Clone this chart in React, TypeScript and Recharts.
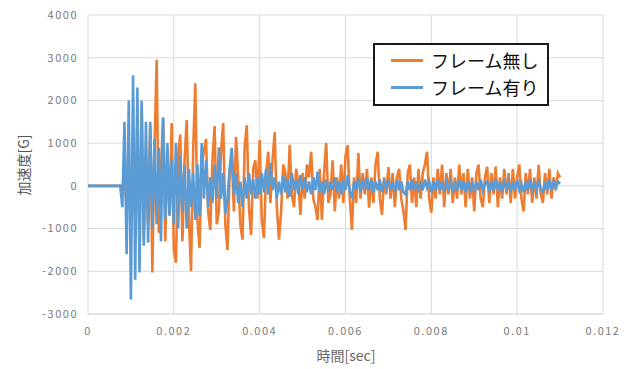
import React from "react";
import { LineChart, Line, XAxis, YAxis, CartesianGrid, Legend } from "recharts";

const SAMPLE_STEP = 0.00005;

const xTicks = [0, 0.002, 0.004, 0.006, 0.008, 0.01, 0.012];
const xTickLabels = ["0", "0.002", "0.004", "0.006", "0.008", "0.01", "0.012"];
const yTicks = [-3000, -2000, -1000, 0, 1000, 2000, 3000, 4000];

const seriesNames = ["フレーム無し", "フレーム有り"];

// 加速度 [G] — フレーム無し
const frameless = [
  0, 0, 0, 0, 0, 0, 0, 0, 0, 0,
  0, 0, 0, 0, 0, 0, 0, 200, -500, 800,
  -900, 1000, -700, 1500, -1260, 1850, -1260, 600, -900, 1400,
  -2030, 900, 2950, -1100, 400, 1600, -1300, 800, -700, 1470,
  -1500, -1800, 700, 1200, -1300, 600, 1540, -700, -2000, 800,
  2400, -800, -1450, 500, 800, 1100, -600, -1030, 600, 1400,
  -900, -600, 800, 1470, -900, -1500, 300, 700, -600, 1150,
  200, -900, -1260, 900, 1420, -500, -1150, 400, 600, -300,
  1070, -800, -1220, 300, 800, -400, 600, 1260, -500, -1260,
  -600, 500, 300, -300, 960, -200, -500, 400, 100, -680,
  300, -300, 500, 200, 800, -300, -500, -800, 400, -800,
  300, 1000, -400, -200, 600, -600, 200, -300, 500, -400,
  700, 950, -300, -1030, 200, -400, 770, -300, 300, -200,
  400, -510, 200, -400, 500, 800, -300, -680, 200, -200,
  440, -300, 300, -500, 200, 400, -300, -600, -1030, 300,
  500, -400, 200, -500, 400, -300, 300, 500, 800, -300,
  -630, 200, -300, 400, -200, 500, -500, 300, -200, 400,
  -400, 200, -300, 500, -200, 300, -500, 400, -300, 200,
  -600, 300, 500, -300, -500, 200, 450, -400, 300, -200,
  450, -500, 200, -300, 400, -200, 300, -400, 400, -300,
  200, 500, -300, -600, 300, -200, 400, -400, 200, -300,
  490, -200, -400, 300, -200, 400, -300, 200, -100, 300,
  200,
];

// 加速度 [G] — フレーム有り
const framed = [
  0, 0, 0, 0, 0, 0, 0, 0, 0, 0,
  0, 0, 0, 0, 0, 0, -500, 1500, -1600, 2000,
  -2660, 2590, -2200, 2300, -2030, 2000, -1400, 1500, -1330, 1500,
  -1000, 1100, -900, 900, -1300, 1600, -800, 1000, -700, 600,
  -900, 1000, -1000, 700, -600, 500, -1000, 400, -500, 300,
  -800, 500, -700, 1000, -300, 600, -500, 200, -400, 500,
  -300, 900, -300, 300, -650, -300, 400, 890, -200, 300,
  -400, 100, -500, 200, -300, 300, -200, 150, -300, 200,
  -200, 300, -150, 400, -200, 540, -100, 200, -300, 100,
  -200, 250, -150, 150, -250, 300, -100, 150, -200, 250,
  -100, 200, -150, 100, -200, 200, -100, 330, -150, 100,
  -200, 150, -150, 100, -100, 200, -150, 100, -200, 150,
  -100, 250, -150, -250, 100, -100, 200, -150, 150, -100,
  200, -100, 150, -150, 100, -100, 150, -150, 100, -50,
  150, -100, 100, -150, 150, -100, 100, -150, -200, 100,
  -100, 150, -100, 100, -150, 100, -100, 150, -50, 100,
  -150, 100, -100, 150, -100, 100, -150, 100, -50, 100,
  -150, 100, -100, 150, -100, 100, -150, 100, -100, 50,
  -150, 100, -100, 150, -100, 50, 100, -150, 100, -100,
  150, -100, 100, -150, 100, -50, 100, -150, 100, -100,
  150, -100, 50, -150, 100, -100, 150, -100, 50, -100,
  150, -100, -150, 100, -100, 150, -100, 100, -50, 100,
  50,
];

const data = frameless.map((v, i) => ({
  t: Number((i * SAMPLE_STEP).toFixed(6)),
  a: v,
  b: framed[i],
}));

const ORANGE = "#ED7D31";
const BLUE = "#5B9BD5";
const FONT = "'Noto Sans CJK JP', 'Noto Sans', sans-serif";

const LegendBox = () => (
  <div
    style={{
      width: 172,
      height: 57,
      border: "2px solid #1a1a1a",
      background: "#fff",
      boxSizing: "content-box",
      fontFamily: FONT,
      fontSize: 18,
      color: "#111",
      lineHeight: "27px",
      paddingTop: 2,
    }}
  >
    {seriesNames.map((n, i) => (
      <div key={n} style={{ display: "flex", alignItems: "center", height: 27 }}>
        <div
          style={{
            width: 32,
            height: 3,
            background: i === 0 ? ORANGE : BLUE,
            marginLeft: 16,
            marginRight: 8,
          }}
        />
        <span>{n}</span>
      </div>
    ))}
  </div>
);

const tickStyle = { fill: "#7a7a7a", fontSize: 11, fontFamily: FONT, letterSpacing: 1.5 };

export default function App() {
  return (
    <div style={{ position: "absolute", left: 0, top: 0, width: 632, height: 369, background: "#fff" }}>
      <LineChart
        width={632}
        height={369}
        data={data}
        margin={{ top: 15, right: 29, bottom: 25, left: 0 }}
      >
        <CartesianGrid stroke="#D9D9D9" strokeWidth={1} />
        <XAxis
          type="number"
          dataKey="t"
          domain={[0, 0.012]}
          ticks={xTicks}
          tickFormatter={(v: number) => xTickLabels[xTicks.indexOf(v)] ?? String(v)}
          tick={tickStyle}
          tickLine={false}
          tickSize={0}
          tickMargin={13}
          axisLine={{ stroke: "#D9D9D9" }}
          height={30}
          interval={0}
          allowDataOverflow
        />
        <YAxis
          type="number"
          domain={[-3000, 4000]}
          ticks={yTicks}
          tick={tickStyle}
          tickLine={false}
          tickSize={0}
          tickMargin={10}
          axisLine={false}
          width={88}
          interval={0}
        />
        <Legend
          layout="horizontal"
          verticalAlign="middle"
          align="center"
          content={() => <LegendBox />}
          wrapperStyle={{ position: "absolute", left: 373, top: 43, width: 176, height: 61 }}
        />
        <Line
          type="linear"
          dataKey="a"
          name={seriesNames[0]}
          stroke={ORANGE}
          strokeWidth={2.6}
          dot={false}
          isAnimationActive={false}
        />
        <Line
          type="linear"
          dataKey="b"
          name={seriesNames[1]}
          stroke={BLUE}
          strokeWidth={2.6}
          dot={false}
          isAnimationActive={false}
        />
      </LineChart>
      <div
        style={{
          position: "absolute",
          left: 346,
          top: 355,
          transform: "translate(-50%, -50%)",
          fontFamily: FONT,
          fontSize: 14,
          color: "#666",
          whiteSpace: "nowrap",
        }}
      >
        時間[sec]
      </div>
      <div
        style={{
          position: "absolute",
          left: 23,
          top: 165,
          transform: "translate(-50%, -50%) rotate(-90deg)",
          fontFamily: FONT,
          fontSize: 14,
          color: "#555",
          whiteSpace: "nowrap",
        }}
      >
        加速度[G]
      </div>
    </div>
  );
}
